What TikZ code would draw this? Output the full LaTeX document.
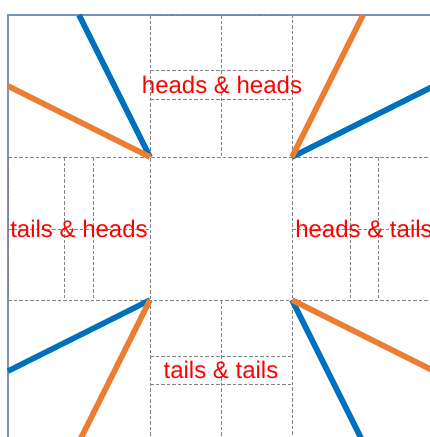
\documentclass[tikz,border=0pt]{standalone}
\usepackage{fontspec}
\setmainfont{Liberation Sans}
\definecolor{frameblue}{RGB}{120,145,195}
\definecolor{lineblue}{RGB}{0,112,192}
\definecolor{lineorange}{RGB}{237,125,49}
\definecolor{gridgray}{RGB}{130,130,130}
\definecolor{labelred}{RGB}{255,0,0}
\begin{document}
\begin{tikzpicture}[x=1pt,y=-1pt,
  grid/.style={draw=gridgray,line width=0.8pt,dash pattern=on 3.5pt off 2pt},
  blueline/.style={draw=lineblue,line width=5.6pt},
  orangeline/.style={draw=lineorange,line width=5.6pt},
  lbl/.style={text=labelred,font=\fontsize{24}{28}\selectfont,inner sep=0pt}]
\useasboundingbox (0,0) rectangle (430,437);
\clip (0,0) rectangle (430,437);
% frame
\draw[frameblue,line width=1.2pt] (8,15) rectangle (434,441);
% grid cells
\draw[grid] (150,15) rectangle (292,157);
\draw[grid] (221,15) -- (221,157);
\draw[grid] (150,70) -- (292,70) (150,99) -- (292,99);
\draw[grid] (8,157) rectangle (150,300);
\draw[grid] (8,229) -- (150,229);
\draw[grid] (64,157) -- (64,300) (93,157) -- (93,300);
\draw[grid] (292,157) rectangle (434,300);
\draw[grid] (292,229) -- (434,229);
\draw[grid] (350,157) -- (350,300) (378,157) -- (378,300);
\draw[grid] (150,300) rectangle (292,442);
\draw[grid] (221,300) -- (221,442);
\draw[grid] (150,356) -- (292,356) (150,384) -- (292,384);
% coordinates
\coordinate (tl) at (150,157);
\coordinate (tr) at (292,157);
\coordinate (bl) at (150,300);
\coordinate (br) at (292,300);
\coordinate (tlb) at (79,15);
\coordinate (tlo) at (8,86);
\coordinate (tro) at (363,15);
\coordinate (trb) at (434,86);
\coordinate (blb) at (8,371);
\coordinate (blo) at (79,442);
\coordinate (bro) at (434,371);
\coordinate (brb) at (363,442);
% lines
\draw[blueline] (tl) -- (tlb);
\draw[blueline] (tr) -- (trb);
\draw[blueline] (bl) -- (blb);
\draw[blueline] (br) -- (brb);
\draw[orangeline] (tl) -- (tlo);
\draw[orangeline] (tr) -- (tro);
\draw[orangeline] (bl) -- (blo);
\draw[orangeline] (br) -- (bro);
% labels
\node[lbl] (hh) at (222,85) {heads \& heads};
\node[lbl] (th) at (79,229) {tails \& heads};
\node[lbl] (ht) at (364,229) {heads \& tails};
\node[lbl] (tt) at (221,370) {tails \& tails};
\end{tikzpicture}
\end{document}
